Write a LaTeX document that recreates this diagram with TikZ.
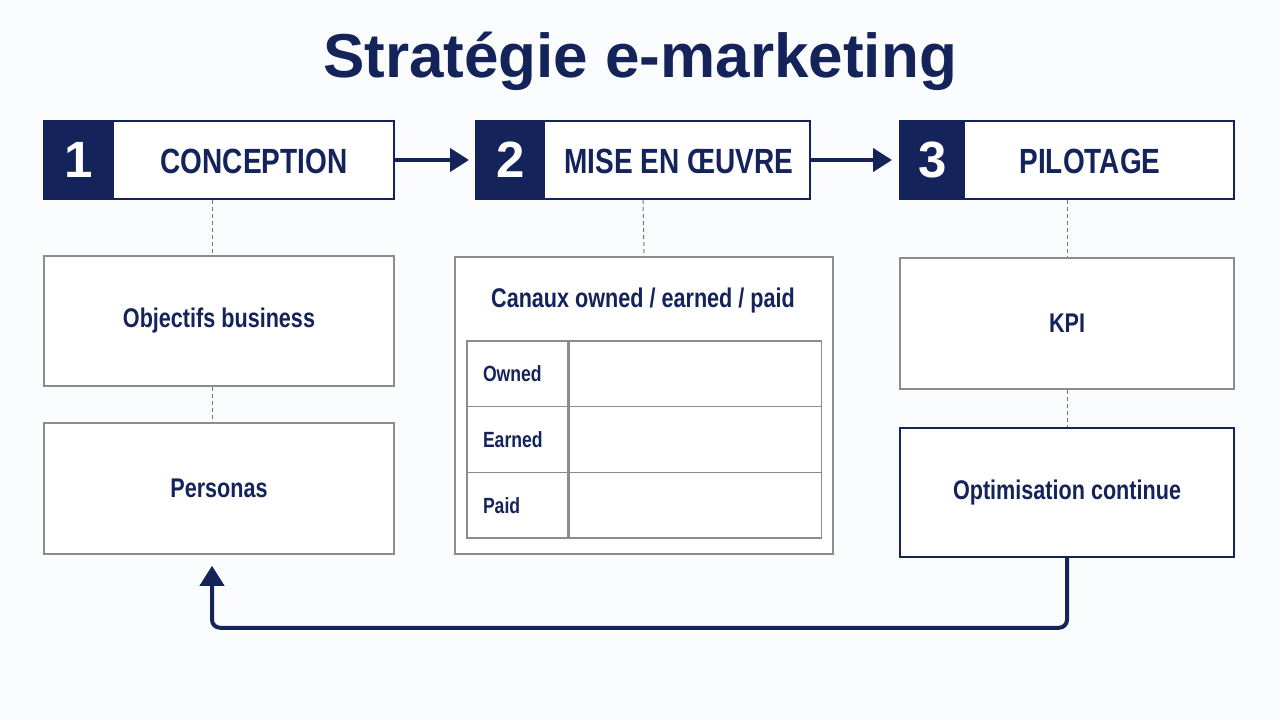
\documentclass[tikz,border=0pt]{standalone}
\usepackage{fontspec}
\setmainfont{Liberation Sans}
\newfontfamily\narrowfont[FakeStretch=0.8]{Liberation Sans}
\usetikzlibrary{arrows.meta,calc}
\definecolor{navy}{RGB}{20,35,90}
\definecolor{boxgray}{RGB}{140,140,140}
\definecolor{paper}{RGB}{251,252,253}
\tikzset{
  headbox/.style={draw=navy, line width=2pt, fill=white, minimum height=78pt, inner sep=0pt},
  numbox/.style={fill=navy, text=white, minimum height=78pt, inner sep=0pt,
    font=\bfseries\fontsize{51}{51}\selectfont},
  headtxt/.style={text=navy, inner sep=0pt, font=\narrowfont\bfseries\fontsize{35}{35}\selectfont},
  itembox/.style={draw=boxgray, line width=1.5pt, fill=white, inner sep=0pt, text=navy,
    font=\narrowfont\bfseries\fontsize{27}{27}\selectfont},
  cell/.style={draw=boxgray, line width=1.2pt, inner sep=0pt, minimum height=65.7pt},
  celltxt/.style={cell, minimum width=101pt, inner xsep=16pt, text width=69pt, align=left,
    text=navy, font=\narrowfont\bfseries\fontsize{22}{22}\selectfont},
  flow/.style={draw=navy, line width=4pt, -{Triangle[length=19pt,width=23pt]}},
  link/.style={draw=boxgray!85!black, line width=1pt, dash pattern=on 4pt off 3pt},
  back/.style={draw=navy, line width=4pt, rounded corners=8pt, -{Triangle[length=20pt,width=24pt]}}
}

\begin{document}
\begin{tikzpicture}[x=1pt,y=-1pt]
\useasboundingbox (0,0) rectangle (1280,720);
\fill[paper] (0,0) rectangle (1280,720);

% title
\node[text=navy, font=\bfseries\fontsize{62}{62}\selectfont] (title) at (640,61) {Stratégie e-marketing};

% three steps
\node[headbox, minimum width=350pt] (conc) at (219,160) {};
\node[numbox, minimum width=71pt, anchor=west] (n1) at (conc.west) {1};
\node[headtxt] (t1) at (254,161) {CONCEPTION};

\node[headbox, minimum width=334pt] (mise) at (643,160) {};
\node[numbox, minimum width=70pt, anchor=west] (n2) at (mise.west) {2};
\node[headtxt] (t2) at (679,161) {MISE EN ŒUVRE};

\node[headbox, minimum width=334pt] (pilo) at (1067,160) {};
\node[numbox, minimum width=66pt, anchor=west] (n3) at (pilo.west) {3};
\node[headtxt] (t3) at (1090,161) {PILOTAGE};

\draw[flow, shorten >=6pt] (conc.east) -- (mise.west);
\draw[flow, shorten >=7pt] (mise.east) -- (pilo.west);

% column 1
\node[itembox, minimum width=350pt, minimum height=130pt] (obj) at (219,321) {Objectifs business};
\node[itembox, minimum width=350pt, minimum height=131pt] (pers) at (219,488.5) {Personas};
\draw[link] ([xshift=-7pt]conc.south) -- ([xshift=-7pt]obj.north);
\draw[link] ([xshift=-7pt]obj.south) -- ([xshift=-7pt]pers.north);

% column 2
\node[itembox, minimum width=378pt, minimum height=297pt] (canaux) at (644,405.5) {};
\node[text=navy, font=\narrowfont\bfseries\fontsize{27}{27}\selectfont] (canauxt) at (643,301) {Canaux owned / earned / paid};
\draw[link] (mise.south) -- (canaux.north);

\node[celltxt] (owned) at (517.5,373.8) {Owned};
\node[cell, minimum width=252pt, anchor=west] (ownedv) at (owned.east) {};
\node[celltxt] (earned) at (517.5,439.5) {Earned};
\node[cell, minimum width=252pt, anchor=west] (earnedv) at (earned.east) {};
\node[celltxt] (paid) at (517.5,505.2) {Paid};
\node[cell, minimum width=252pt, anchor=west] (paidv) at (paid.east) {};

% column 3
\node[itembox, minimum width=334pt, minimum height=131pt] (kpi) at (1067,323.5) {KPI};
\node[itembox, draw=navy, minimum width=334pt, minimum height=129pt] (opt) at (1067,492.5) {Optimisation continue};
\draw[link] (pilo.south) -- (kpi.north);
\draw[link] (kpi.south) -- (opt.north);

% feedback loop
\draw[back, shorten >=11pt] (opt.south) -- ++(0,70) -| ([xshift=-7pt]pers.south);
\end{tikzpicture}
\end{document}
